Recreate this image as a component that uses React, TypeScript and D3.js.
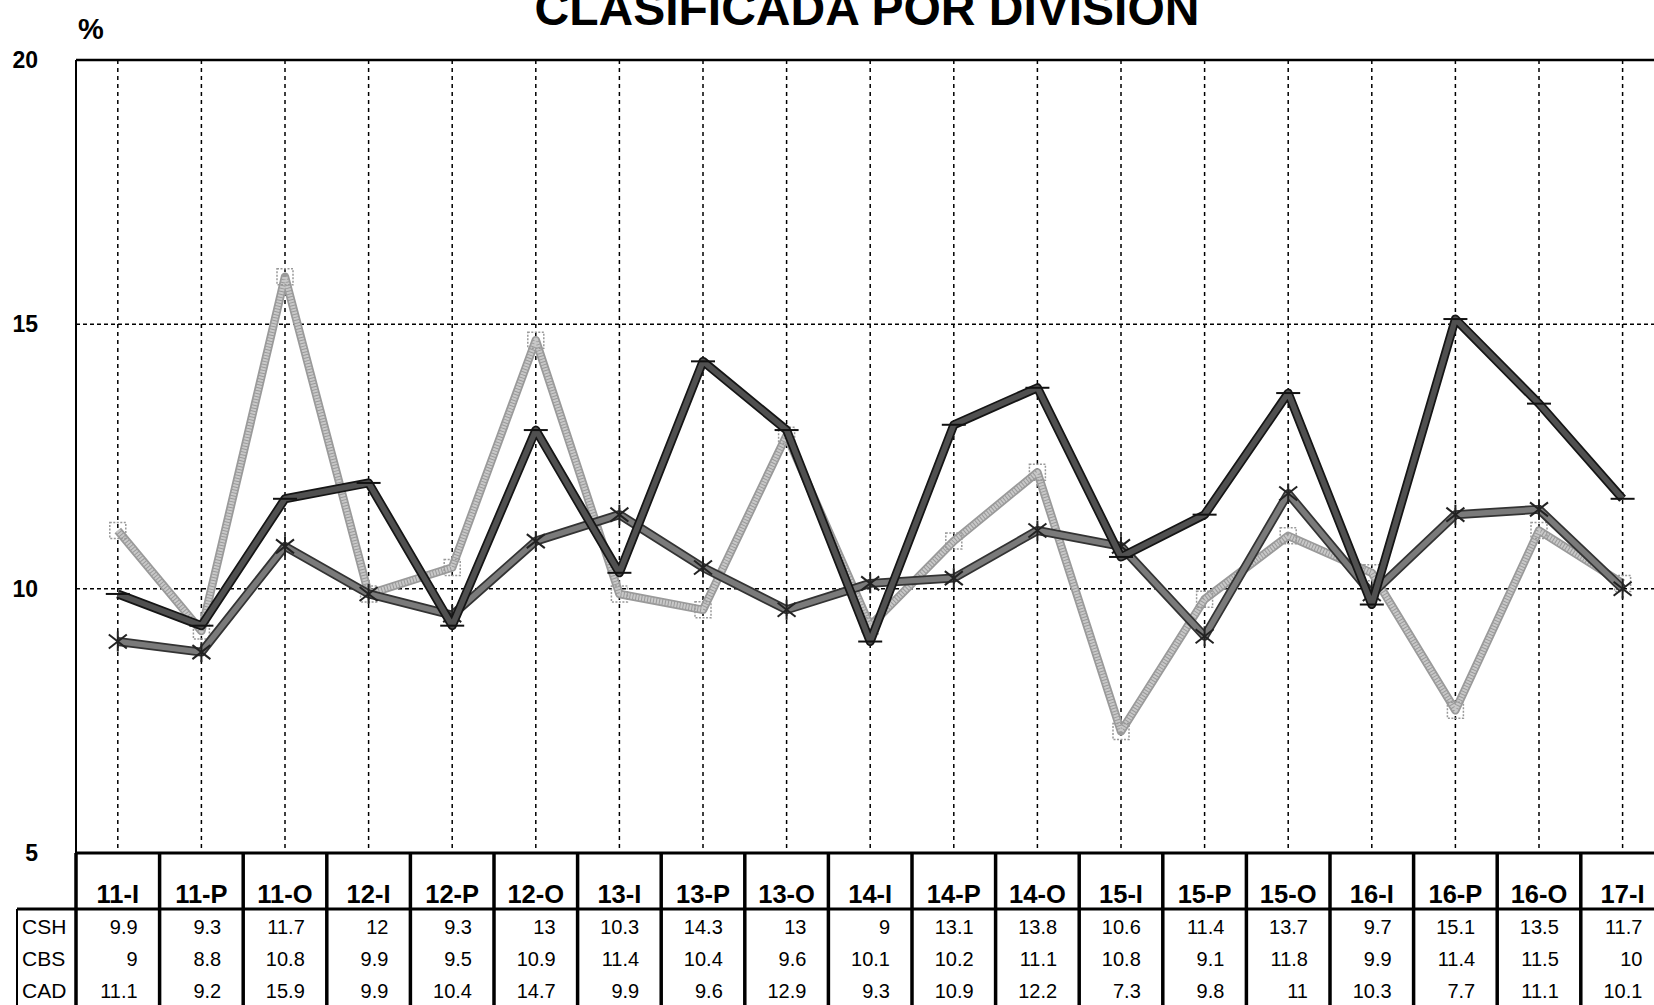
import React from 'react';
import * as d3 from 'd3';

const categories = ['11-I','11-P','11-O','12-I','12-P','12-O','13-I','13-P','13-O','14-I','14-P','14-O','15-I','15-P','15-O','16-I','16-P','16-O','17-I'];
const csh = [9.9,9.3,11.7,12,9.3,13,10.3,14.3,13,9,13.1,13.8,10.6,11.4,13.7,9.7,15.1,13.5,11.7];
const cbs = [9,8.8,10.8,9.9,9.5,10.9,11.4,10.4,9.6,10.1,10.2,11.1,10.8,9.1,11.8,9.9,11.4,11.5,10];
const cad = [11.1,9.2,15.9,9.9,10.4,14.7,9.9,9.6,12.9,9.3,10.9,12.2,7.3,9.8,11,10.3,7.7,11.1,10.1];
const seriesNames = ['CSH','CBS','CAD'];
const yTicks = [20,15,10,5];
const title = 'CLASIFICADA POR DIVISION';

const W = 1654, H = 1005;
const plotL = 76, plotT = 60, plotB = 853;
const colW = 83.6;
const headerB = 909;
const rowBase = [934, 966, 998];

export default function App() {
  const x = d3.scaleBand<string>().domain(categories).range([plotL, plotL + colW * categories.length]).padding(0);
  const y = d3.scaleLinear().domain([5, 20]).range([plotB, plotT]);
  const cx = (c: string) => (x(c) as number) + x.bandwidth() / 2;
  const line = d3.line<number>().x((_, i) => cx(categories[i])).y(d => y(d));
  const font = 'Liberation Sans, Arial, sans-serif';
  const seriesData = [csh, cbs, cad];

  return (
    <svg width={W} height={H} style={{ position: 'absolute', left: 0, top: 0, background: '#fff' }} fontFamily={font}>
      <rect x={0} y={0} width={W} height={H} fill="#fff" />
      <text x={867} y={25} fontSize={48} fontWeight="bold" textAnchor="middle">{title}</text>
      <text x={78} y={39} fontSize={29} fontWeight="bold">%</text>
      {yTicks.map(t => (
        <text key={t} x={38} y={y(t) + 8} fontSize={23} fontWeight="bold" textAnchor="end">{t}</text>
      ))}
      {[15, 10].map(t => (
        <line key={t} x1={plotL} x2={W} y1={y(t)} y2={y(t)} stroke="#000" strokeWidth={1.5} strokeDasharray="4 3" />
      ))}
      {categories.map(c => (
        <line key={c} x1={cx(c)} x2={cx(c)} y1={plotT} y2={plotB} stroke="#000" strokeWidth={1.5} strokeDasharray="4 4" />
      ))}
      <line x1={plotL} x2={W} y1={plotT} y2={plotT} stroke="#000" strokeWidth={2.5} />
      <line x1={plotL} x2={plotL} y1={plotT} y2={plotB} stroke="#000" strokeWidth={2} />

      {/* CAD (bottom) */}
      <path d={line(cad) || ''} fill="none" stroke="#9a9a9a" strokeWidth={8.5} strokeLinejoin="round" />
      <path d={line(cad) || ''} fill="none" stroke="#c8c8c8" strokeWidth={5} strokeLinejoin="round" strokeDasharray="2 1" />
      {cad.map((v, i) => (
        <rect key={i} x={cx(categories[i]) - 8} y={y(v) - 8} width={16} height={16} fill="none" stroke="#999" strokeWidth={1.5} strokeDasharray="2 1.5" />
      ))}
      {/* CBS */}
      <path d={line(cbs) || ''} fill="none" stroke="#333" strokeWidth={9} strokeLinejoin="round" />
      <path d={line(cbs) || ''} fill="none" stroke="#7a7a7a" strokeWidth={5.5} strokeLinejoin="round" />
      {cbs.map((v, i) => {
        const px = cx(categories[i]), py = y(v);
        return (
          <g key={i} stroke="#222" strokeWidth={2}>
            <line x1={px - 9} y1={py - 7} x2={px + 9} y2={py + 7} />
            <line x1={px - 9} y1={py + 7} x2={px + 9} y2={py - 7} />
            <line x1={px} y1={py - 10} x2={px} y2={py + 10} />
          </g>
        );
      })}
      {/* CSH (top) */}
      <path d={line(csh) || ''} fill="none" stroke="#151515" strokeWidth={9} strokeLinejoin="round" />
      <path d={line(csh) || ''} fill="none" stroke="#505050" strokeWidth={5.5} strokeLinejoin="round" />
      {csh.map((v, i) => {
        const px = cx(categories[i]), py = y(v);
        return <line key={i} x1={px - 12} x2={px + 12} y1={py} y2={py} stroke="#111" strokeWidth={2} />;
      })}

      {/* table */}
      <line x1={plotL} x2={W} y1={plotB} y2={plotB} stroke="#000" strokeWidth={3} />
      <line x1={17} x2={W} y1={headerB} y2={headerB} stroke="#000" strokeWidth={3} />
      <line x1={17} x2={17} y1={headerB} y2={H + 5} stroke="#000" strokeWidth={2} />
      {d3.range(categories.length + 1).map(k => {
        const xx = plotL + k * colW;
        return <line key={k} x1={xx} x2={xx} y1={plotB} y2={H + 5} stroke="#000" strokeWidth={3.5} />;
      })}
      {categories.map(c => (
        <text key={c} x={cx(c)} y={903} fontSize={25.5} fontWeight="bold" textAnchor="middle">{c}</text>
      ))}
      {seriesNames.map((n, r) => (
        <text key={n} x={22} y={rowBase[r]} fontSize={21}>{n}</text>
      ))}
      {seriesData.map((arr, r) =>
        arr.map((v, i) => (
          <text key={r + '-' + i} x={(x(categories[i]) as number) + colW - 22} y={rowBase[r]} fontSize={20} textAnchor="end">{String(v)}</text>
        ))
      )}
    </svg>
  );
}
